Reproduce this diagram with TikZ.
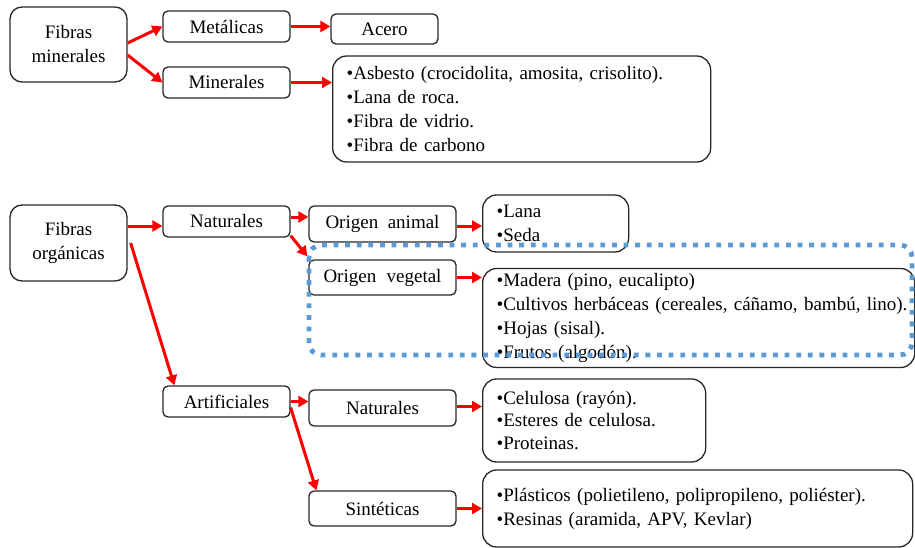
\documentclass[tikz,border=0pt]{standalone}
\usepackage{fontspec}
\setmainfont{Liberation Serif}
\usetikzlibrary{arrows.meta,calc}

\definecolor{groupblue}{RGB}{91,155,213}

\begin{document}
\begin{tikzpicture}[x=1pt,y=-1pt,
  box/.style={draw=black!85, line width=1.3pt, rounded corners=5pt, inner sep=0pt,
    align=center, font=\fontsize{19}{24}\selectfont},
  wh/.style 2 args={minimum width=#1pt, minimum height=#2pt},
  lst/.style={box, rounded corners=14pt, align=left, anchor=west, inner xsep=14pt, inner ysep=0pt},
  arr/.style={draw=red, line width=3pt, -{Triangle[length=10pt,width=11pt]}},
  grp/.style={draw=groupblue, line width=4.8pt, dash pattern=on 4.8pt off 6.8pt, rounded corners=12pt}
]
\useasboundingbox (0,0) rectangle (915,548);

% --- mineral fibres ---
\node[box, wh={117}{75}, rounded corners=12pt] (fm) at (68.5,44.5) {Fibras\\minerales};
\node[box, wh={127}{31}] (met) at (226.5,26.5) {Metálicas};
\node[box, wh={107}{30}] (acero) at (384.5,29) {Acero};
\node[box, wh={127}{31}] (minr) at (226.5,82.5) {Minerales};
\node[lst, wh={378}{106}, text width=350pt] (mlist) at (332,109)
  {\makebox[333pt][s]{•Asbesto (crocidolita, amosita, crisolito).}\\
   \mbox{•Lana de roca.}\\
   \mbox{•Fibra de vidrio.}\\
   \mbox{•Fibra de carbono}};

% --- organic fibres ---
\node[box, wh={117}{76}, rounded corners=12pt] (fo) at (68.5,243) {Fibras\\orgánicas};
\node[box, wh={127}{31}] (nat1) at (226.5,221.5) {Naturales};
\node[box, wh={147}{36}] (oan) at (382.5,224) {\makebox[114pt][s]{Origen animal}};
\node[box, wh={147}{35}] (oveg) at (382.5,277.5) {\makebox[118pt][s]{Origen vegetal}};
\node[lst, wh={146}{57}, text width=118pt] (lana) at (482,223.5)
  {\mbox{•Lana}\\ \mbox{•Seda}};
\node[lst, wh={432}{99}, text width=404pt] (vlist) at (482,318)
  {\mbox{•Madera (pino, eucalipto)}\\
   \mbox{•Cultivos herbáceas (cereales, cáñamo, bambú, lino).}\\
   \mbox{•Hojas (sisal).}\\
   \mbox{•Frutos (algodón).}};
\node[box, wh={127}{31}] (art) at (226.5,401.5) {Artificiales};
\node[box, wh={147}{36}] (nat2) at (382.5,408) {Naturales};
\node[box, wh={147}{35}] (sint) at (382.5,508.5) {Sintéticas};
\node[lst, wh={223}{83}, text width=195pt, font=\fontsize{19}{22.5}\selectfont] (cel) at (482,420.5)
  {\mbox{•Celulosa (rayón).}\\
   \mbox{•Esteres de celulosa.}\\
   \mbox{•Proteinas.}};
\node[lst, wh={430}{77}, text width=402pt] (plist) at (482,508.5)
  {\mbox{•Plásticos (polietileno, polipropileno, poliéster).}\\
   \mbox{•Resinas (aramida, APV, Kevlar)}};

% --- connectors ---
\draw[arr] ([yshift=1.5pt]fm.east) -- (met.west);
\draw[arr] ([yshift=-10.5pt]fm.east) -- (minr.west);
\draw[arr] (met.east) -- (acero.west |- met.east);
\draw[arr] (minr.east) -- (mlist.west |- minr.east);

\coordinate (n1in) at ([yshift=-4.5pt]nat1.west);
\draw[arr] (fo.east |- n1in) -- (n1in);
\draw[arr] ([xshift=3pt]fo.east) -- ([xshift=12pt]art.north west);
\coordinate (n1out) at ([yshift=4.5pt]nat1.east);
\draw[arr] (n1out) -- (oan.west |- n1out);
\draw[arr] ([yshift=2pt]nat1.south east) -- ([shift={(-1pt,3pt)}]oveg.north west);
\coordinate (oanout) at ([yshift=-2pt]oan.east);
\draw[arr] (oanout) -- (lana.west |- oanout);
\draw[arr] (oveg.east) -- (vlist.west |- oveg.east);
\draw[arr] (art.east) -- (nat2.west |- art.east);
\draw[arr] ([yshift=-6pt]art.east) -- ([xshift=8pt]sint.north west);
\coordinate (n2out) at ([yshift=1.5pt]nat2.east);
\draw[arr] (n2out) -- (cel.west |- n2out);
\draw[arr] (sint.east) -- (plist.west |- sint.east);

% --- grouping outline around the plant-origin branch ---
\draw[grp] (309,245) rectangle (912,355);
\end{tikzpicture}
\end{document}
